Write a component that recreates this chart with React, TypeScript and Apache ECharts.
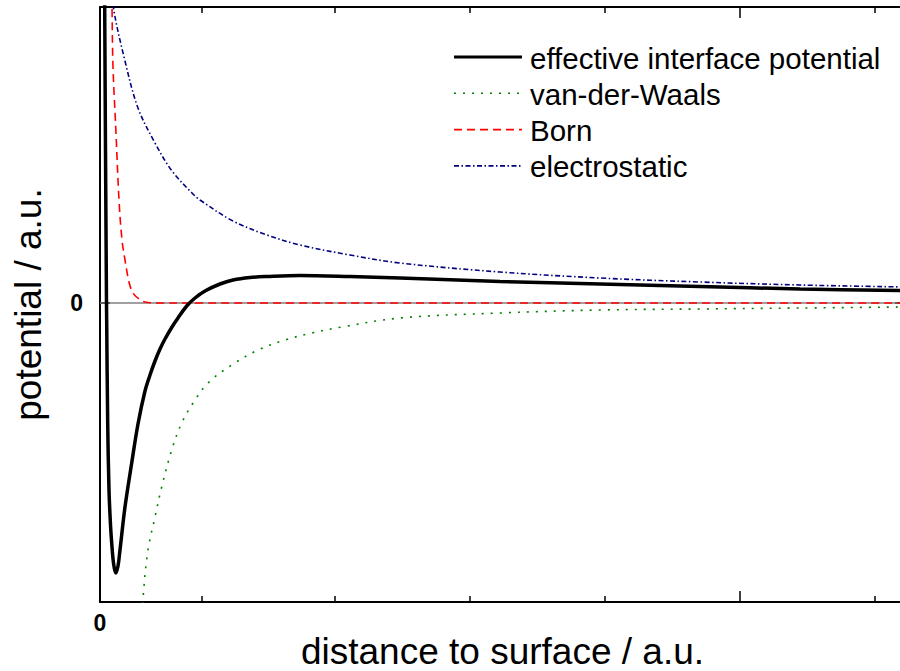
import React, { useEffect, useRef } from "react";
import * as echarts from "echarts";

// ---- data (arbitrary units) ----
const effX = [0.045, 0.055, 0.065, 0.067, 0.077, 0.09, 0.105, 0.117, 0.135, 0.157, 0.18, 0.2, 0.25, 0.317, 0.38, 0.45, 0.5, 0.55, 0.6, 0.65, 0.72, 0.78, 0.867, 0.95, 1.05, 1.2, 1.33, 1.5, 1.67, 2.0, 2.5, 3.0, 4.0, 5.0, 6.0, 7.0, 8.05];
const effY = [3.33, 1.53, 0.0, -0.2, -1.2, -1.87, -2.22, -2.4, -2.6, -2.7, -2.63, -2.47, -2.04, -1.6, -1.21, -0.88, -0.72, -0.58, -0.46, -0.36, -0.24, -0.15, -0.03, 0.05, 0.12, 0.19, 0.23, 0.255, 0.265, 0.275, 0.265, 0.25, 0.215, 0.19, 0.165, 0.14, 0.125];

const vdwX = [0.41, 0.433, 0.48, 0.55, 0.617, 0.717, 0.817, 0.95, 1.08, 1.317, 1.58, 1.85, 2.117, 2.417, 3.0, 4.0, 5.0, 6.0, 7.0, 8.05];
const vdwY = [-3.37, -2.92, -2.47, -2.14, -1.84, -1.47, -1.2, -0.97, -0.8, -0.62, -0.47, -0.37, -0.3, -0.24, -0.15, -0.1, -0.07, -0.06, -0.05, -0.04];

const bornX = [0.115, 0.12, 0.13, 0.16, 0.19, 0.22, 0.25, 0.29, 0.33, 0.39, 0.45, 0.58, 1.0, 2.0, 4.0, 6.0, 8.05];
const bornY = [3.33, 2.96, 2.36, 1.7, 1.03, 0.63, 0.43, 0.21, 0.1, 0.04, 0.01, 0.0, 0.0, 0.0, 0.0, 0.0, 0.0];

const elecX = [0.11, 0.13, 0.25, 0.38, 0.55, 0.72, 0.92, 1.0, 1.33, 1.67, 2.0, 2.5, 3.0, 4.0, 5.0, 6.0, 7.0, 8.05];
const elecY = [3.33, 2.98, 2.42, 1.95, 1.6, 1.32, 1.1, 1.03, 0.82, 0.68, 0.58, 0.48, 0.4, 0.31, 0.25, 0.21, 0.18, 0.16];

const zeroX = [0, 8.05];
const zeroY = [0, 0];

const xMin = 0;
const xMax = 8.05;
const yMin = -2.99;
const yMax = 2.96;
const minorTicksX = [1.017, 2.35, 3.7, 5.05, 7.75];
const majorTicksX = [6.4];
const xLabelValues = [0];
const yLabelValues = [0];

const legendNames = ["effective interface potential", "van-der-Waals", "Born", "electrostatic"];

const FONT = "'Liberation Sans', Arial, Helvetica, sans-serif";

const zip = (xs: number[], ys: number[]) => xs.map((x, i) => [x, ys[i]]);

export default function App() {
  const ref = useRef<HTMLDivElement>(null);

  useEffect(() => {
    if (!ref.current) return;
    const chart = echarts.init(ref.current, null, { renderer: "svg" });

    const styles = [
      { color: "#000000", width: 3.5, dash: "solid" as any },
      { color: "#008000", width: 1.6, dash: [2, 7] },
      { color: "#ff0000", width: 1.6, dash: [8, 5] },
      { color: "#000080", width: 1.6, dash: [5, 2.5, 1.5, 2.5] },
    ];

    const legendTop = 57;
    const legendStep = 36.3;
    const legendGraphics: any[] = [];
    legendNames.forEach((name, i) => {
      const y = legendTop + i * legendStep;
      const s = styles[i];
      legendGraphics.push({
        type: "line",
        shape: { x1: 454, y1: y, x2: 522, y2: y },
        style: {
          stroke: s.color,
          lineWidth: i === 0 ? 3 : 1.6,
          lineDash: i === 0 ? null : s.dash,
        },
        z: 100,
      });
      legendGraphics.push({
        type: "text",
        x: 530,
        y: y + 1,
        style: {
          text: name,
          fill: "#000",
          font: `29.5px ${FONT}`,
          verticalAlign: "middle",
        },
        z: 100,
      });
    });

    const baseX = {
      type: "value",
      min: xMin,
      max: xMax,
      splitLine: { show: false },
      axisLabel: { show: false },
    };

    const lineSeries = (name: string, xs: number[], ys: number[], s: any, z: number) => ({
      name,
      type: "line",
      data: zip(xs, ys),
      showSymbol: false,
      smooth: 0.35,
      lineStyle: { color: s.color, width: s.width, type: s.dash },
      z,
    });

    const option: any = {
      animation: false,
      backgroundColor: "#ffffff",
      grid: { left: 100, right: -5, top: 7, bottom: 69, containLabel: false, outerBoundsMode: "none" },
      xAxis: [
        {
          ...baseX,
          position: "bottom",
          axisLine: { show: true, onZero: false, lineStyle: { color: "#000", width: 2 } },
          axisTick: { show: true, inside: true, length: 6, customValues: minorTicksX, lineStyle: { color: "#000", width: 1.5 } },
          axisLabel: {
            show: true,
            customValues: xLabelValues,
            formatter: (v: number) => String(v),
            fontSize: 23,
            fontWeight: "bold",
            color: "#000",
            fontFamily: FONT,
            margin: 9,
          },
          name: "distance to surface / a.u.",
          nameLocation: "middle",
          nameMoveOverlap: false,
          nameGap: 31,
          nameTextStyle: { fontSize: 37, color: "#000", fontFamily: FONT },
        },
        {
          ...baseX,
          position: "bottom",
          axisLine: { show: false, onZero: false },
          axisTick: { show: true, inside: true, length: 11, customValues: majorTicksX, lineStyle: { color: "#000", width: 1.5 } },
        },
        {
          ...baseX,
          position: "top",
          axisLine: { show: true, onZero: false, lineStyle: { color: "#000", width: 2 } },
          axisTick: { show: true, inside: true, length: 6, customValues: minorTicksX, lineStyle: { color: "#000", width: 1.5 } },
        },
        {
          ...baseX,
          position: "top",
          axisLine: { show: false, onZero: false },
          axisTick: { show: true, inside: true, length: 11, customValues: majorTicksX, lineStyle: { color: "#000", width: 1.5 } },
        },
      ],
      yAxis: [
        {
          type: "value",
          min: yMin,
          max: yMax,
          position: "left",
          splitLine: { show: false },
          axisLine: { show: true, onZero: false, lineStyle: { color: "#000", width: 2 } },
          axisTick: { show: true, inside: true, length: 10, customValues: yLabelValues, lineStyle: { color: "#000", width: 2 } },
          axisLabel: {
            show: true,
            customValues: yLabelValues,
            formatter: (v: number) => String(v),
            fontSize: 23,
            fontWeight: "bold",
            color: "#000",
            fontFamily: FONT,
            margin: 17,
          },
          name: "potential / a.u.",
          nameLocation: "middle",
          nameGap: 53,
          nameTextStyle: { fontSize: 37, color: "#000", fontFamily: FONT },
        },
        {
          type: "value",
          min: yMin,
          max: yMax,
          position: "right",
          splitLine: { show: false },
          axisLine: { show: true, onZero: false, lineStyle: { color: "#000", width: 2 } },
          axisTick: { show: true, inside: true, length: 10, customValues: yLabelValues, lineStyle: { color: "#000", width: 2 } },
          axisLabel: { show: false },
        },
      ],
      series: [
        {
          name: "zero",
          type: "line",
          data: zip(zeroX, zeroY),
          showSymbol: false,
          lineStyle: { color: "#808080", width: 1.5 },
          z: 1,
          silent: true,
        },
        lineSeries(legendNames[1], vdwX, vdwY, styles[1], 3),
        lineSeries(legendNames[2], bornX, bornY, styles[2], 3),
        lineSeries(legendNames[3], elecX, elecY, styles[3], 3),
        lineSeries(legendNames[0], effX, effY, styles[0], 4),
      ],
      graphic: legendGraphics,
    };

    chart.setOption(option);
    return () => chart.dispose();
  }, []);

  return (
    <div
      ref={ref}
      style={{ position: "fixed", left: 0, top: 0, width: 900, height: 671, background: "#fff" }}
    />
  );
}
